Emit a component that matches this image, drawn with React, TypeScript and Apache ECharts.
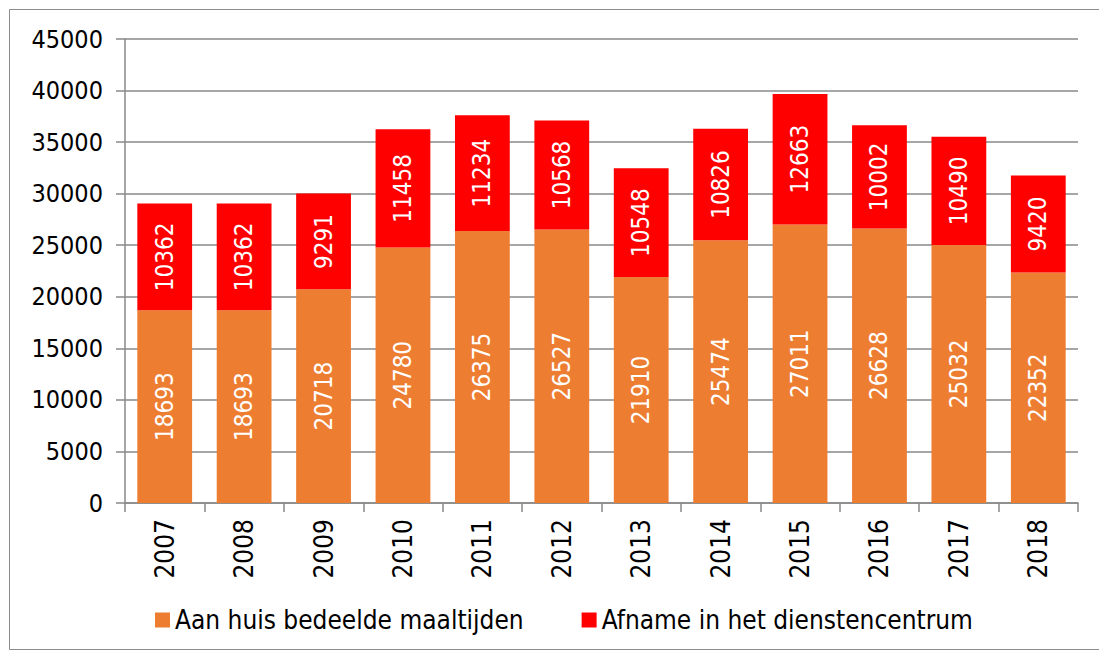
import React, { useEffect, useRef } from "react";
import * as echarts from "echarts";

const years = ["2007","2008","2009","2010","2011","2012","2013","2014","2015","2016","2017","2018"];
const aanHuis = [18693,18693,20718,24780,26375,26527,21910,25474,27011,26628,25032,22352];
const afname = [10362,10362,9291,11458,11234,10568,10548,10826,12663,10002,10490,9420];
const seriesNames = ["Aan huis bedeelde maaltijden", "Afname in het dienstencentrum"];

const FONT = "DejaVu Sans Condensed";

export default function App() {
  const ref = useRef<HTMLDivElement>(null);
  useEffect(() => {
    const chart = echarts.init(ref.current!, null, { renderer: "svg" });
    const labelStyle = {
      show: true,
      position: "inside",
      rotate: 90,
      color: "#ffffff",
      fontFamily: FONT,
      fontSize: 24,
    };
    chart.setOption({
      animation: false,
      textStyle: { fontFamily: FONT },
      graphic: [
        {
          type: "rect",
          shape: { x: 9.5, y: 9.5, width: 1100, height: 640 },
          style: { fill: "none", stroke: "#8c8c8c", lineWidth: 1 },
          silent: true,
        },
      ],
      grid: { left: 125, right: 21, top: 39, bottom: 150, containLabel: false },
      legend: {
        bottom: 15,
        left: 150,
        itemWidth: 15,
        itemHeight: 15,
        itemGap: 58,
        icon: "rect",
        textStyle: { fontFamily: FONT, fontSize: 26, color: "#000" },
        data: seriesNames,
      },
      xAxis: {
        type: "category",
        data: years,
        axisLine: { lineStyle: { color: "#898989", width: 1.5 } },
        axisTick: { show: true, length: 9, lineStyle: { color: "#898989", width: 1.5 } },
        axisLabel: { rotate: 90, color: "#000", fontFamily: FONT, fontSize: 26, margin: 16 },
      },
      yAxis: {
        type: "value",
        min: 0,
        max: 45000,
        interval: 5000,
        axisLine: { show: true, lineStyle: { color: "#898989", width: 1.5 } },
        axisTick: { show: true, length: 9, lineStyle: { color: "#898989", width: 1.5 } },
        splitLine: { lineStyle: { color: "#898989", width: 1.5 } },
        axisLabel: {
          color: "#000",
          fontFamily: FONT,
          fontSize: 25,
          margin: 22,
          formatter: (v: number) => String(v),
        },
      },
      series: [
        {
          name: seriesNames[0],
          type: "bar",
          stack: "total",
          data: aanHuis,
          barWidth: "69%",
          itemStyle: { color: "#ED7D31" },
          label: labelStyle,
        },
        {
          name: seriesNames[1],
          type: "bar",
          stack: "total",
          data: afname,
          barWidth: "69%",
          itemStyle: { color: "#FF0000" },
          label: labelStyle,
        },
      ],
    });
    return () => chart.dispose();
  }, []);
  return <div ref={ref} style={{ width: 1099, height: 653, position: "absolute", left: 0, top: 0 }} />;
}
